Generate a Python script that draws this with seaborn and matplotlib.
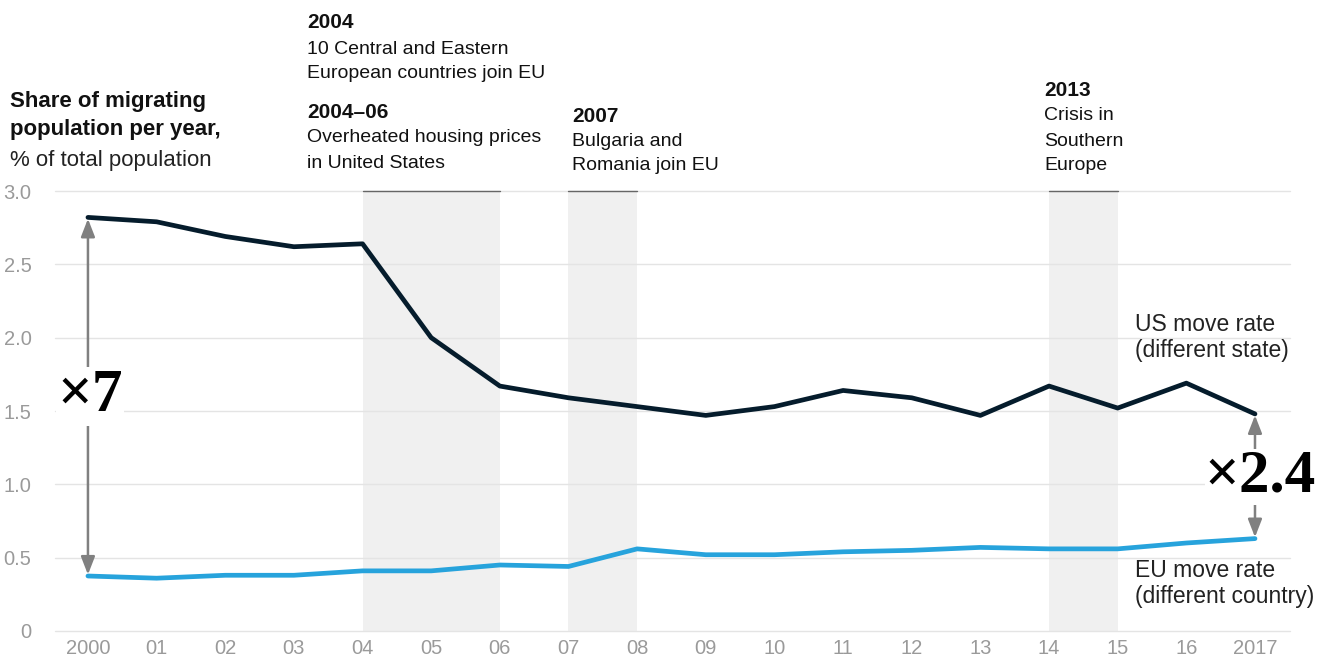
import matplotlib
matplotlib.use("Agg")
import matplotlib.pyplot as plt
import seaborn as sns
import pandas as pd

years = list(range(2000, 2018))
us_rate = [2.82, 2.79, 2.69, 2.62, 2.64, 2.00, 1.67, 1.59, 1.53, 1.47,
           1.53, 1.64, 1.59, 1.47, 1.67, 1.52, 1.69, 1.48]
eu_rate = [0.375, 0.36, 0.38, 0.38, 0.41, 0.41, 0.45, 0.44, 0.56, 0.52,
           0.52, 0.54, 0.55, 0.57, 0.56, 0.56, 0.60, 0.63]
tick_labels = ["2000", "01", "02", "03", "04", "05", "06", "07", "08", "09",
               "10", "11", "12", "13", "14", "15", "16", "2017"]
bands = [(2004, 2006), (2007, 2008), (2014, 2015)]

df = pd.DataFrame({"year": years * 2,
                   "rate": us_rate + eu_rate,
                   "series": ["US"] * len(years) + ["EU"] * len(years)})

sns.set_theme(style="white")
plt.rcParams["font.family"] = ["Liberation Sans", "DejaVu Sans"]

W, H = 1332, 661
fig = plt.figure(figsize=(W / 100, H / 100), dpi=100)
ax = fig.add_axes([55 / W, 1 - 631 / H, (1290 - 55) / W, (631 - 191) / H])

navy = "#051c2c"
blue = "#27a3dc"
grey_txt = "#9a9a9a"

# shaded periods
for a, b in bands:
    ax.axvspan(a, b, ymin=0, ymax=1, color="#f0f0f0", lw=0, zorder=0)
    ax.plot([a, b], [3.0, 3.0], color="#666666", lw=1, zorder=2, clip_on=False)

for yv in [0, 0.5, 1.0, 1.5, 2.0, 2.5, 3.0]:
    ax.axhline(yv, color="#e4e4e4", lw=1, zorder=1, clip_on=False)

sns.lineplot(data=df, x="year", y="rate", hue="series",
             palette={"US": navy, "EU": blue}, lw=3.4, legend=False,
             ax=ax, zorder=3)
for ln in ax.lines[-2:]:
    ln.set_solid_capstyle("round")
    ln.set_clip_on(False)

ax.set_xlim(1999.52, 2017.51)
ax.set_ylim(0, 3.0)
ax.set_xticks(years)
ax.set_xticklabels(tick_labels)
ax.set_yticks([0, 0.5, 1.0, 1.5, 2.0, 2.5, 3.0])
ax.set_yticklabels(["0", "0.5", "1.0", "1.5", "2.0", "2.5", "3.0"])
ax.tick_params(axis="both", length=0, labelsize=14.5, labelcolor=grey_txt)
ax.tick_params(axis="y", pad=17)
ax.tick_params(axis="x", pad=6)
ax.set_xlabel("")
ax.set_ylabel("")
for s in ax.spines.values():
    s.set_visible(False)
ax.patch.set_alpha(0)

# ratio arrows
arrow_kw = dict(arrowstyle="<|-|>,head_length=0.9,head_width=0.35",
                color="#808080", lw=1.8, shrinkA=1, shrinkB=1)
ax.annotate("", xy=(2000, us_rate[0]), xytext=(2000, eu_rate[0]),
            arrowprops=arrow_kw, zorder=4, annotation_clip=False)
ax.annotate("", xy=(2017, us_rate[-1]), xytext=(2017, eu_rate[-1]),
            arrowprops=arrow_kw, zorder=4, annotation_clip=False)
ax.text(2000.03, 1.6, "×7", fontsize=44, fontweight="bold", ha="center", va="center",
        family=["Liberation Serif", "DejaVu Serif"], color="black", zorder=5,
        bbox=dict(facecolor="white", edgecolor="none", pad=1))
ax.text(2017.08, 1.05, "×2.4", fontsize=44, fontweight="bold", ha="center", va="center",
        family=["Liberation Serif", "DejaVu Serif"], color="black", zorder=5,
        bbox=dict(facecolor="white", edgecolor="none", pad=0))

# series labels
ax.text(2015.25, 2.17, "US move rate\n(different state)", fontsize=16.5, color="#222222",
        va="top", ha="left", linespacing=1.2)
ax.text(2015.25, 0.49, "EU move rate\n(different country)", fontsize=16.5, color="#222222",
        va="top", ha="left", linespacing=1.15)


def ftxt(x, y, s, color="#111111", **kw):
    fig.text(x / W, 1 - y / H, s, va="center", ha="left", color=color, **kw)


# title
ftxt(10, 101, "Share of migrating", fontsize=16, fontweight="bold")
ftxt(10, 130, "population per year,", fontsize=16, fontweight="bold")
ftxt(10, 161, "% of total population", fontsize=16, color="#222222")

# event notes
ftxt(307, 22, "2004", fontsize=15, fontweight="bold")
ftxt(307, 49, "10 Central and Eastern", fontsize=14)
ftxt(307, 74, "European countries join EU", fontsize=14)
ftxt(307, 113, "2004–06", fontsize=15, fontweight="bold")
ftxt(307, 138, "Overheated housing prices", fontsize=14)
ftxt(307, 163, "in United States", fontsize=14)
ftxt(572, 116, "2007", fontsize=15, fontweight="bold")
ftxt(572, 141, "Bulgaria and", fontsize=14)
ftxt(572, 166, "Romania join EU", fontsize=14)
ftxt(1044, 90, "2013", fontsize=15, fontweight="bold")
ftxt(1044, 116, "Crisis in", fontsize=14)
ftxt(1044, 141, "Southern", fontsize=14)
ftxt(1044, 166, "Europe", fontsize=14)

fig.savefig("out.png", dpi=100)
